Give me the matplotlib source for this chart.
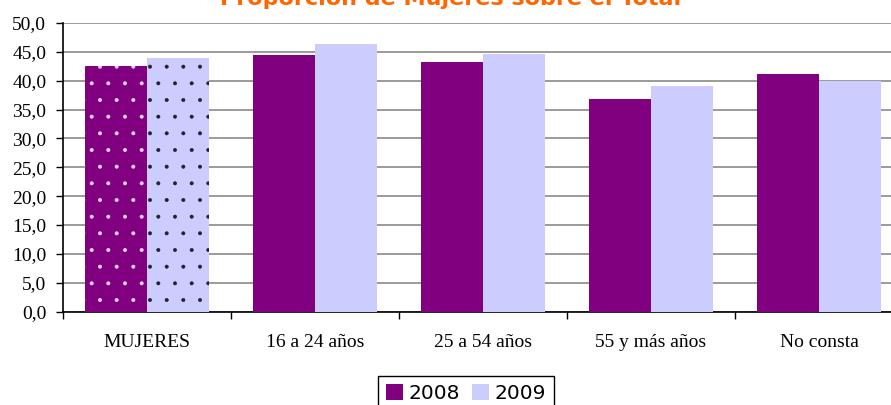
import numpy as np
import matplotlib
matplotlib.use('Agg')
import matplotlib.pyplot as plt
from matplotlib.patches import Patch

# values
categories = ['MUJERES', '16 a 24 años', '25 a 54 años', '55 y más años', 'No consta']
years = ['2008', '2009']
values_2008 = [42.6, 44.4, 43.3, 36.9, 41.1]
values_2009 = [44.0, 46.3, 44.6, 39.0, 39.9]
y_ticks = [0, 5, 10, 15, 20, 25, 30, 35, 40, 45, 50]

PURPLE = '#800080'
LAVENDER = '#CCCCFF'
ORANGE = '#FF6600'


def plot_chart():
    plt.rcParams['hatch.linewidth'] = 0.4
    fig = plt.figure(figsize=(8.91, 4.05), dpi=100)
    ax = fig.add_axes([63 / 891, 1 - 311.5 / 405, 840 / 891, 288.5 / 405])

    x = np.arange(len(categories))
    w = 0.37
    bars08 = ax.bar(x - w / 2, values_2008, w, color=PURPLE, linewidth=0, zorder=3)
    bars09 = ax.bar(x + w / 2, values_2009, w, color=LAVENDER, linewidth=0, zorder=3)

    # first group is drawn with a dotted fill
    bars08[0].set_hatch('.')
    bars08[0].set_edgecolor('#F0D8F0')
    bars09[0].set_hatch('.')
    bars09[0].set_edgecolor('#202030')

    ax.set_xlim(-0.5, len(categories) - 0.5)
    ax.set_ylim(0, 50)
    ax.set_yticks(y_ticks)
    ax.set_yticklabels([f'{v:.1f}'.replace('.', ',') for v in y_ticks],
                       family='Liberation Serif', fontsize=14)
    ax.yaxis.grid(True, color='#808080', linewidth=1.1, zorder=0)
    ax.set_axisbelow(True)

    ax.set_xticks(np.arange(len(categories) + 1) - 0.5)
    ax.set_xticklabels([])
    ax.set_xticks(x, minor=True)
    ax.set_xticklabels(categories, minor=True, family='Liberation Serif', fontsize=14)
    ax.tick_params(axis='x', which='major', length=5, width=1, direction='out')
    ax.tick_params(axis='x', which='minor', length=0, pad=16)
    ax.tick_params(axis='y', length=5, width=1, pad=7)

    for side in ['top', 'right']:
        ax.spines[side].set_visible(False)
    ax.spines['left'].set_linewidth(1.2)
    ax.spines['bottom'].set_linewidth(1.2)

    fig.text(451 / 891, 1 - 5 / 405, 'Proporción de Mujeres sobre el Total',
             ha='center', va='baseline', color=ORANGE, fontsize=16,
             fontweight='bold', family='DejaVu Sans')

    handles = [Patch(facecolor=PURPLE), Patch(facecolor=LAVENDER)]
    leg = fig.legend(handles, years, loc='upper center',
                     bbox_to_anchor=(466 / 891, 1 - 376 / 405), ncol=2,
                     fontsize=14.5, frameon=True, fancybox=False, framealpha=1,
                     edgecolor='black', handlelength=0.85, handleheight=0.85,
                     handletextpad=0.25, columnspacing=0.6, borderpad=0.4,
                     borderaxespad=0)
    leg.get_frame().set_linewidth(1)

    fig.savefig('out.png', dpi=100)


def main():
    plot_chart()


if __name__ == '__main__':
    main()
